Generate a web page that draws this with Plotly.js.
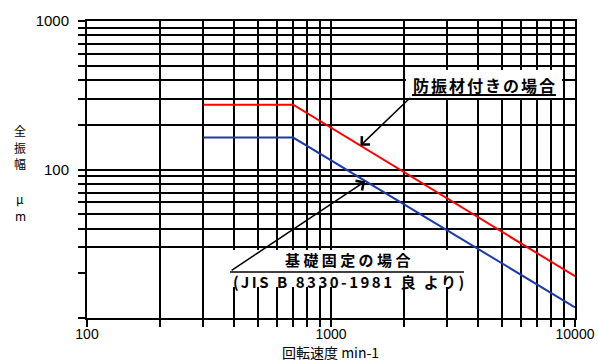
<!DOCTYPE html>
<html>
<head>
<meta charset="utf-8">
<script src="https://cdn.plot.ly/plotly-3.0.1.min.js"></script>
<style>
  body { margin: 0; background: #fff; }
  #chart { width: 598px; height: 361px; }
</style>
</head>
<body>
<div id="chart"></div>
<script>
// 回転速度 min-1
var speed = [300, 700, 10000];
// 全振幅 μm
var withDamper = [273, 273, 19.1];   // 防振材付きの場合
var fixedBase = [164, 164, 11.8];    // 基礎固定の場合

var xTicks = [100, 200, 300, 400, 500, 600, 700, 800, 900,
              1000, 2000, 3000, 4000, 5000, 6000, 7000, 8000, 9000, 10000];
var xLabels = ["100", "", "", "", "", "", "", "", "",
               "1000", "", "", "", "", "", "", "", "", "10000"];
var yTicks = [10, 30, 40, 50, 60, 70, 80, 90,
              100, 200, 300, 400, 500, 600, 700, 800, 900, 1000];
var yLabels = ["", "", "", "", "", "", "", "",
               "100", "", "", "", "", "", "", "", "", "1000"];
var yMinorTicks = [20];
var yTitleChars = ["全", "振", "幅", "μ", "m"];

var jp = "Noto Sans CJK JP";
var num = "Liberation Sans, Arial, sans-serif";

var traces = [
  {
    x: speed, y: withDamper, type: "scatter", mode: "lines",
    line: {color: "#ff0000", width: 2}, hoverinfo: "skip"
  },
  {
    x: speed, y: fixedBase, type: "scatter", mode: "lines",
    line: {color: "#1a3ca8", width: 2}, hoverinfo: "skip"
  }
];

// arrow tips sit on the lines
var tipRed = 1320, tipBlue = 1380;
function onLine(series, x) { return series[1] * speed[1] / x; }

// pixel -> paper helpers for the decorations (plot area 87..575, 21..318)
function px(v) { return (v - 87) / 488; }
function py(v) { return (318 - v) / 297; }

function spaced(s, ls) {
  return '<span style="letter-spacing:' + ls + 'px"><b>' + s + '</b></span>';
}

var annotations = [
  {xref: "paper", yref: "paper", x: px(485), y: py(85.5),
   xanchor: "center", yanchor: "middle",
   text: spaced("防振材付きの場合", 2), showarrow: false,
   font: {family: jp, size: 16, color: "#000"}},
  {xref: "paper", yref: "paper", x: px(349), y: py(259.5),
   xanchor: "center", yanchor: "middle", borderpad: 0,
   text: spaced("基礎固定の場合", 3.4), showarrow: false,
   font: {family: jp, size: 15, color: "#000"}},
  {xref: "paper", yref: "paper", x: px(350), y: py(281),
   xanchor: "center", yanchor: "middle", borderpad: 0,
   text: spaced("(JIS B 8330-1981 良 より)", 2.5), showarrow: false,
   font: {family: jp, size: 15, color: "#000"}},
  {x: Math.log10(tipRed), y: Math.log10(onLine(withDamper, tipRed)),
   text: "", showarrow: true, arrowhead: 4, arrowsize: 1.5, arrowwidth: 1.5,
   arrowcolor: "#000", ax: 51, ay: -49},
  {x: Math.log10(tipBlue), y: Math.log10(onLine(fixedBase, tipBlue)),
   text: "", showarrow: true, arrowhead: 4, arrowsize: 1.5, arrowwidth: 1.5,
   arrowcolor: "#000", ax: -135, ay: 90},
  {xref: "paper", yref: "paper", x: px(330), y: py(351.5),
   xanchor: "center", yanchor: "middle", borderpad: 0,
   text: "回転速度 min-1", showarrow: false,
   font: {family: jp, size: 14, color: "#000"}}
];

// stacked y title
var yTitlePos = [130, 147, 163, 199, 215];
yTitleChars.forEach(function (c, i) {
  annotations.push({
    xref: "paper", yref: "paper", x: px(20), y: py(yTitlePos[i]),
    xanchor: "center", yanchor: "middle", text: c, showarrow: false,
    borderpad: 0, font: {family: jp, size: 12, color: "#000"}
  });
});

var layout = {
  width: 598, height: 361,
  margin: {l: 87, r: 23, t: 21, b: 43},
  paper_bgcolor: "#fff", plot_bgcolor: "#fff",
  showlegend: false,
  font: {family: num, size: 14, color: "#000"},
  xaxis: {
    type: "log", range: [2, 4],
    tickmode: "array", tickvals: xTicks, ticktext: xLabels,
    ticks: "outside", ticklen: 7, tickwidth: 2, tickcolor: "#000",
    showgrid: true, gridcolor: "#000", gridwidth: 2,
    showline: true, linecolor: "#000", linewidth: 2, mirror: true,
    zeroline: false, tickfont: {family: num, size: 14},
    ticklabelstandoff: -5
  },
  yaxis: {
    type: "log", range: [1, 3],
    tickmode: "array", tickvals: yTicks, ticktext: yLabels,
    ticks: "outside", ticklen: 7, tickwidth: 2, tickcolor: "#000",
    showgrid: true, gridcolor: "#000", gridwidth: 2,
    showline: true, linecolor: "#000", linewidth: 2, mirror: true,
    zeroline: false, tickfont: {family: num, size: 15},
    ticklabelstandoff: 6,
    minor: {tickmode: "array", tickvals: yMinorTicks, ticks: "outside",
            ticklen: 7, tickwidth: 2, tickcolor: "#000", showgrid: false}
  },
  shapes: [
    // white boxes behind the labels
    {type: "rect", xref: "paper", yref: "paper", layer: "above",
     x0: px(406), x1: px(562), y0: py(98), y1: py(70),
     fillcolor: "#fff", line: {width: 0}},
    {type: "rect", xref: "paper", yref: "paper", layer: "above",
     x0: px(228), x1: px(470), y0: py(287), y1: py(250),
     fillcolor: "#fff", line: {width: 0}},
    // underlines
    {type: "line", xref: "paper", yref: "paper", layer: "above",
     x0: px(412), x1: px(556), y0: py(95), y1: py(95),
     line: {color: "#000", width: 2}},
    {type: "line", xref: "paper", yref: "paper", layer: "above",
     x0: px(230), x1: px(464), y0: py(272), y1: py(272),
     line: {color: "#000", width: 1.5}}
  ],
  annotations: annotations
};

Plotly.newPlot("chart", traces, layout, {displayModeBar: false, staticPlot: true});
</script>
</body>
</html>
